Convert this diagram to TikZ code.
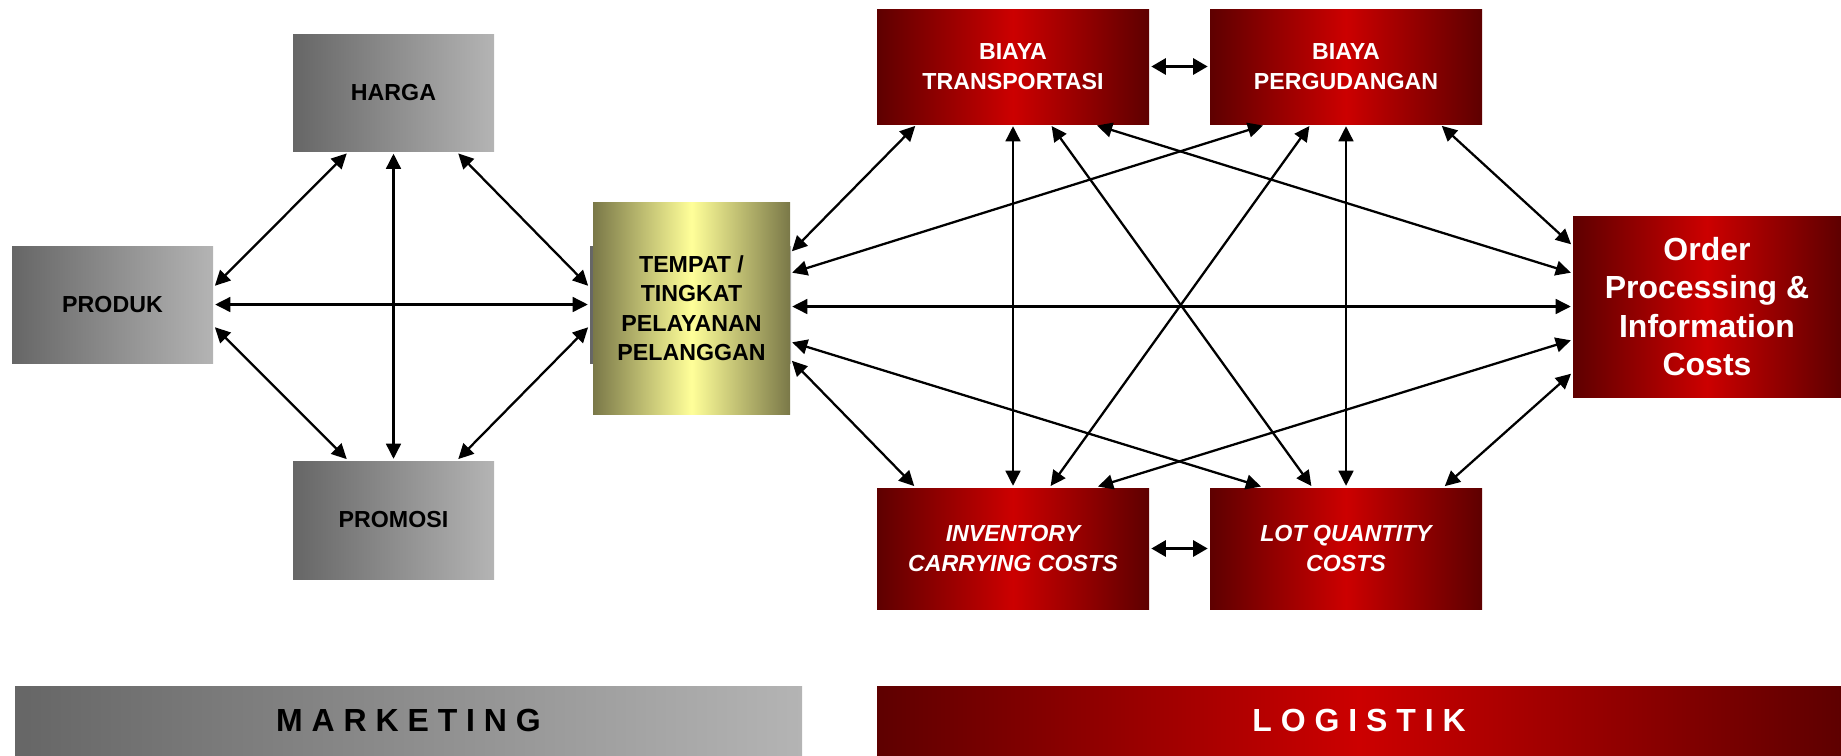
\documentclass[tikz,border=0pt]{standalone}
\usepackage{fontspec}
\setmainfont{Liberation Sans}
\usetikzlibrary{arrows.meta}

\definecolor{greyd}{HTML}{666666}
\definecolor{greyl}{HTML}{B4B4B4}
\definecolor{redd}{HTML}{5E0000}
\definecolor{redl}{HTML}{CC0000}
\definecolor{olived}{HTML}{7A7848}
\definecolor{olivel}{HTML}{FFFF99}

\begin{document}
\begin{tikzpicture}[line width=0.65pt,
    >={Triangle[length=4.3pt,width=4.2pt]},
    link/.style={<->,shorten <=0.3pt,shorten >=0.3pt},
    biglink/.style={{Triangle[length=4.2pt,width=4.5pt]}-{Triangle[length=4.2pt,width=4.5pt]},line width=1.1pt,shorten <=0.3pt,shorten >=0.3pt},
    greybox/.style={rectangle,align=center,inner sep=0pt,minimum width=2.01cm,minimum height=1.17cm,
      left color=greyd,right color=greyl,font=\bfseries\fontsize{6.6}{8.4}\selectfont},
    redbox/.style={rectangle,align=center,inner sep=0pt,minimum width=2.72cm,minimum height=1.15cm,
      left color=redd,right color=redd,middle color=redl,text=white,font=\bfseries\fontsize{6.6}{8.4}\selectfont},
    band/.style={rectangle,inner sep=0pt,minimum height=0.69cm,font=\bfseries\fontsize{9.1}{10.8}\selectfont}]
  \useasboundingbox (0,0) rectangle (18.41,7.55);

  % marketing side
  \node [greybox] (harga) at (3.935,6.62) {HARGA};
  \node [greybox] (produk) at (1.125,4.505) {PRODUK};
  \node [greybox,minimum height=1.18cm] (promosi) at (3.935,2.35) {PROMOSI};
  \node [greybox] (tempat0) at (6.905,4.505) {};
  \node [rectangle,align=center,inner sep=0pt,minimum width=1.97cm,minimum height=2.12cm,
    left color=olived,right color=olived,middle color=olivel,
    font=\bfseries\fontsize{6.6}{8.4}\selectfont] (tempat) at (6.915,4.47) {TEMPAT /\\TINGKAT\\PELAYANAN\\PELANGGAN};

  % logistik side
  \node [redbox] (transp) at (10.13,6.885) {BIAYA\\TRANSPORTASI};
  \node [redbox] (pergud) at (13.46,6.885) {BIAYA\\PERGUDANGAN};
  \node [redbox,minimum width=2.68cm,minimum height=1.81cm,font=\bfseries\fontsize{9.1}{10.9}\selectfont]
    (order) at (17.07,4.485) {Order\\Processing \&\\Information\\Costs};
  \node [redbox,minimum height=1.21cm,font=\bfseries\itshape\fontsize{6.6}{8.4}\selectfont]
    (invent) at (10.13,2.065) {INVENTORY\\CARRYING COSTS};
  \node [redbox,minimum height=1.21cm,font=\bfseries\itshape\fontsize{6.6}{8.4}\selectfont]
    (lot) at (13.46,2.065) {LOT QUANTITY\\COSTS};

  % bands
  \node [band,minimum width=7.87cm,left color=greyd,right color=greyl] (mkt) at (4.085,0.345) {M A R K E T I N G};
  \node [band,minimum width=9.64cm,left color=redd,right color=redd,middle color=redl,text=white]
    (log) at (13.59,0.345) {L O G I S T I K};

  \draw [link] ([yshift=0.18cm]produk.east) -- ([xshift=-0.46cm]harga.south);
  \draw [link] ([xshift=0.64cm]harga.south) -- ([yshift=0.18cm]tempat0.west);
  \draw [link] (produk.east) -- (tempat0.west);
  \draw [link] (harga.south) -- (promosi.north);
  \draw [link] ([yshift=-0.22cm]produk.east) -- ([xshift=-0.46cm]promosi.north);
  \draw [link] ([xshift=0.64cm]promosi.north) -- ([yshift=-0.22cm]tempat0.west);

  \draw [link] ([yshift=0.56cm]tempat.east) -- ([xshift=-0.97cm]transp.south);
  \draw [link] ([yshift=0.35cm]tempat.east) -- ([xshift=-0.82cm]pergud.south);
  \draw [link] (tempat.east |- order.west) -- (order.west);
  \draw [link] ([yshift=-0.34cm]tempat.east) -- ([xshift=-0.84cm]lot.north);
  \draw [link] ([yshift=-0.52cm]tempat.east) -- ([xshift=-0.98cm]invent.north);
  \draw [link] (transp.south) -- (invent.north);
  \draw [link] ([xshift=0.38cm]transp.south) -- ([xshift=-0.34cm]lot.north);
  \draw [link] ([xshift=0.83cm]transp.south) -- ([yshift=0.335cm]order.west);
  \draw [link] ([xshift=-0.36cm]pergud.south) -- ([xshift=0.37cm]invent.north);
  \draw [link] (pergud.south) -- (lot.north);
  \draw [link] ([xshift=0.95cm]pergud.south) -- ([yshift=0.615cm]order.west);
  \draw [link] ([xshift=0.84cm]invent.north) -- ([yshift=-0.335cm]order.west);
  \draw [link] ([xshift=0.98cm]lot.north) -- ([yshift=-0.665cm]order.west);
  \draw [biglink] (transp.east) -- (pergud.west);
  \draw [biglink] (invent.east) -- (lot.west);
\end{tikzpicture}
\end{document}
